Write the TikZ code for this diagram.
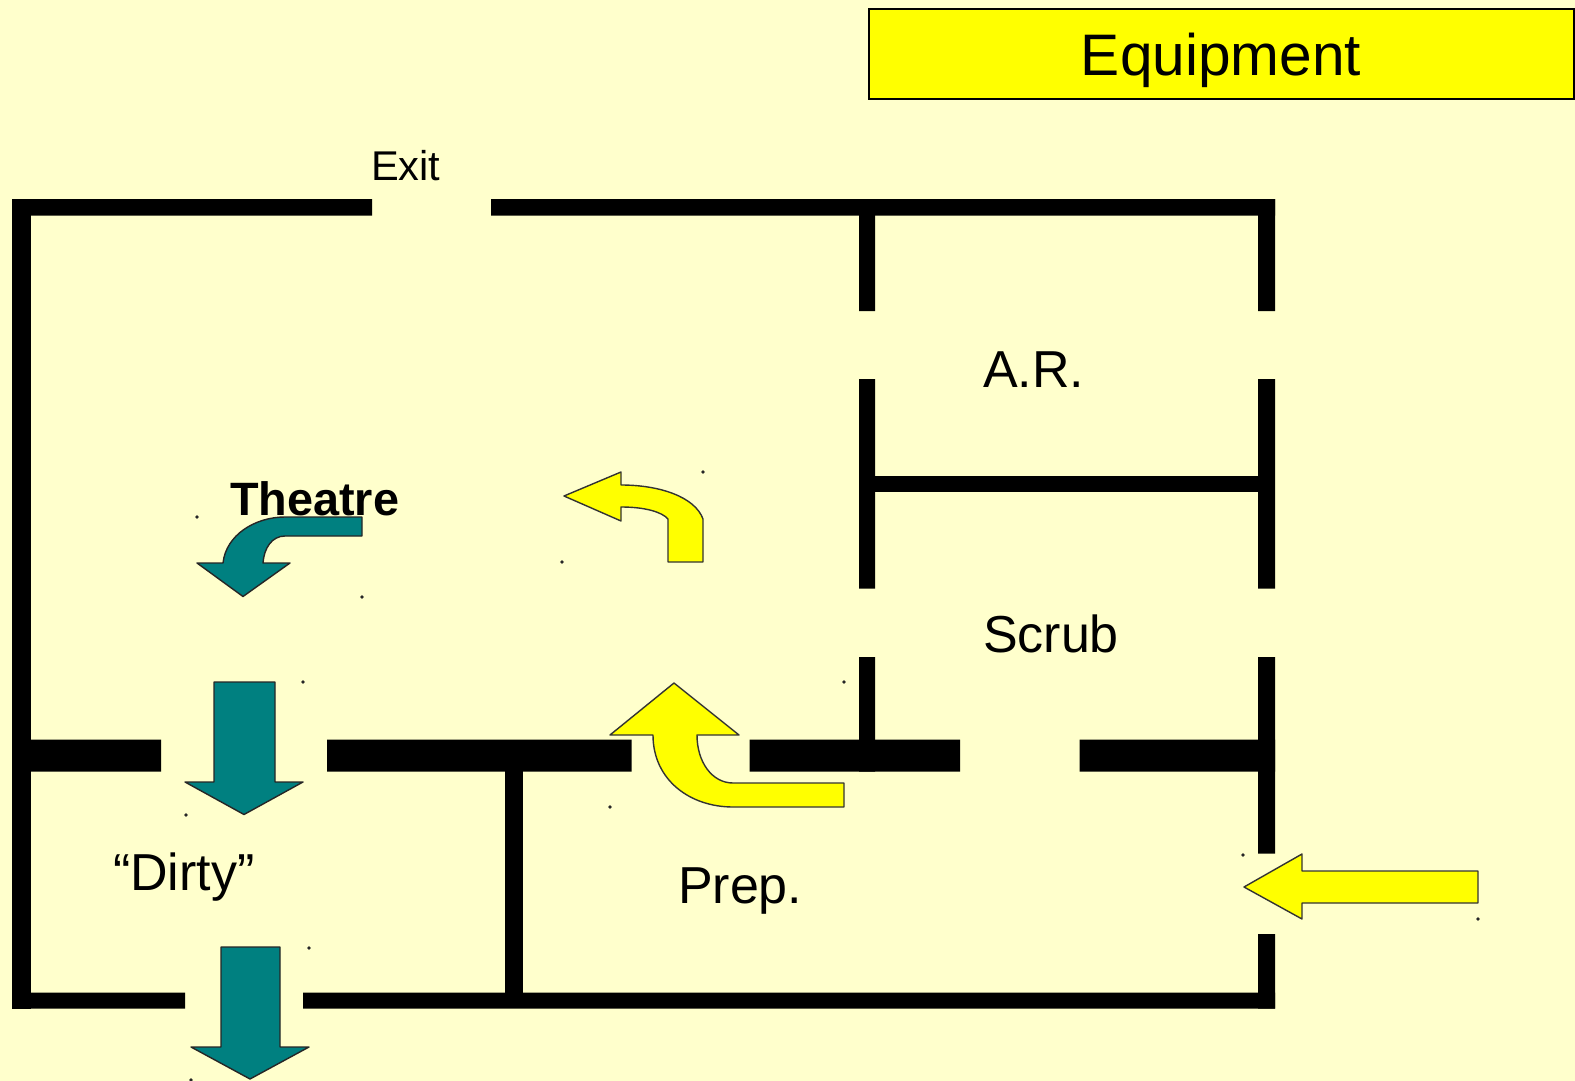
\documentclass[tikz,border=0pt]{standalone}
\usepackage{fontspec}
\setmainfont{Liberation Sans}
\definecolor{bgcream}{HTML}{FFFFCC}
\definecolor{tealarrow}{HTML}{008080}
\definecolor{yellowarrow}{HTML}{FFFF00}
\tikzset{
  wall/.style={fill=black,draw=none},
  tealshape/.style={fill=tealarrow,draw=black!85,line width=0.7pt,line join=round},
  yellowshape/.style={fill=yellowarrow,draw=black!80,line width=0.7pt,line join=round},
  label/.style={anchor=base west,inner sep=0pt,outer sep=0pt,text=black,font=\fontsize{26}{30}\selectfont},
  marker/.style={fill=black!85,draw=none}
}
\begin{document}
\begin{tikzpicture}[x=0.5pt,y=-0.5pt]
\useasboundingbox (0,0) rectangle (1575,1081);
\fill[bgcream] (0,0) rectangle (1575,1081);
% title
\node[draw=black,line width=1pt,fill=yellowarrow,minimum width=352.5pt,minimum height=45pt,inner sep=0pt,anchor=north west] (title) at (868,8) {};
\node[anchor=base,inner sep=0pt,font=\fontsize{29.3}{32}\selectfont] (equipment) at (1221,76) {Equipment};
% walls
\fill[wall] (12,199) rectangle (372,215.5) (491,199) rectangle (1275,215.5);
\fill[wall] (12,199) rectangle (31,1008.5);
\fill[wall] (12,992.5) rectangle (185,1008.5) (303,992.5) rectangle (1275,1008.5);
\fill[wall] (12,739.5) rectangle (161,771.5) (327,739.5) rectangle (631.5,771.5) (749.5,739.5) rectangle (960,771.5) (1079.5,739.5) rectangle (1275,771.5);
\fill[wall] (859,199) rectangle (875,311) (859,379) rectangle (875,588.5) (859,657) rectangle (875,771.5);
\fill[wall] (1258,199) rectangle (1275,311) (1258,379) rectangle (1275,588.5) (1258,657) rectangle (1275,853.5) (1258,934) rectangle (1275,1008.5);
\fill[wall] (505,771) rectangle (523,1008);
\fill[wall] (875,475.5) rectangle (1258,492);
% labels
\node[label,font=\fontsize{20.8}{24}\selectfont] (exit) at (371,181) {Exit};
\node[label] (ar) at (983,387) {A.R.};
\node[label] (scrub) at (983,652.5) {Scrub};
\node[label] (prep) at (678,903) {Prep.};
\node[label] (dirty) at (113,890) {“Dirty”};
\node[label,font=\fontsize{23.4}{26}\selectfont\bfseries] (theatre) at (230,515) {Theatre};
% teal arrows
\draw[tealshape] (214,682) -- (275,682) -- (275,782) -- (303,782) -- (244,814.5) -- (185,782) -- (214,782) -- cycle;
\draw[tealshape] (221,947) -- (280,947) -- (280,1047) -- (309,1047) -- (250,1079) -- (191,1047) -- (221,1047) -- cycle;
\draw[tealshape] (362,517) -- (362,536) -- (285,536) .. controls (272,536) and (264,548) .. (263,563) -- (290,563) -- (243,596.5) -- (197,563) -- (223,563) .. controls (226,535) and (255,517) .. (285,517) -- cycle;
% yellow arrows
\draw[yellowshape] (844,783) -- (844,807) -- (733,807) .. controls (690,807) and (653,780) .. (653,735) -- (610,735) -- (674,683) -- (739,735) -- (697,735) .. controls (697,762) and (712,783) .. (733,783) -- cycle;
\draw[yellowshape] (703,562) -- (668,562) -- (668,519) .. controls (662,512) and (645,507) .. (621,507) -- (621,521) -- (564,496) -- (621,472) -- (621,485) .. controls (660,485) and (695,497) .. (703,519) -- cycle;
\draw[yellowshape] (1478,871) -- (1478,903) -- (1302,903) -- (1302,919) -- (1244,887) -- (1302,854) -- (1302,871) -- cycle;
% selection markers
\foreach \mx/\my in {197/517,362/597,703/472,562/562,844/682,610/807,303/682,186/815,309/948,191/1080,1243/855,1478/919}
  \fill[marker] (\mx,\my) circle (0.9pt);
\end{tikzpicture}
\end{document}
